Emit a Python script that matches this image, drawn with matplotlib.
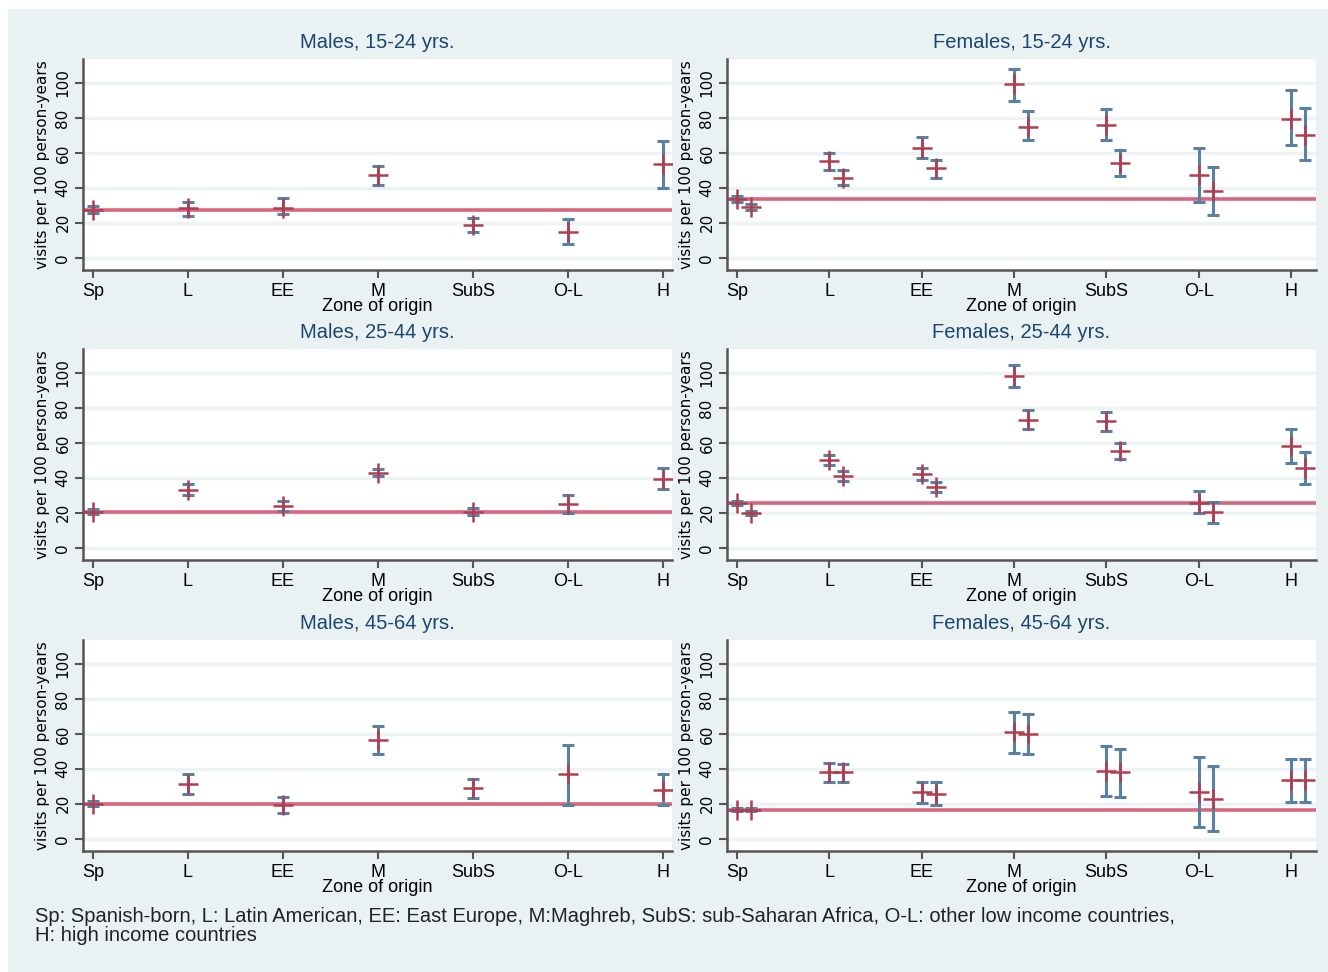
import matplotlib
matplotlib.use("Agg")
import matplotlib.pyplot as plt
from matplotlib.patches import Rectangle
import numpy as np

zones = ["Sp", "L", "EE", "M", "SubS", "O-L", "H"]
titles = ["Males, 15-24 yrs.", "Females, 15-24 yrs.",
          "Males, 25-44 yrs.", "Females, 25-44 yrs.",
          "Males, 45-64 yrs.", "Females, 45-64 yrs."]

# Males: one estimate per zone (rate, lower, upper)
m1524_rate = [27.5, 28.2, 28.4, 47.1, 18.7, 14.9, 53.4]
m1524_lo = [25.5, 24.0, 25.2, 41.8, 14.9, 7.8, 39.9]
m1524_hi = [29.5, 32.0, 34.0, 52.7, 22.5, 22.3, 67.0]
m2544_rate = [20.7, 32.9, 24.1, 43.0, 20.7, 25.0, 39.4]
m2544_lo = [19.5, 30.0, 21.2, 40.9, 18.7, 19.7, 33.8]
m2544_hi = [22.0, 36.3, 27.0, 45.1, 22.6, 30.4, 45.5]
m4564_rate = [20.1, 31.6, 19.5, 56.4, 29.0, 36.9, 28.0]
m4564_lo = [18.7, 25.4, 15.0, 48.5, 23.5, 19.3, 19.3]
m4564_hi = [21.6, 37.1, 23.7, 64.4, 34.3, 53.6, 37.1]

# Females: two estimates per zone (series a, series b)
f1524a_rate = [33.8, 55.3, 62.7, 99.2, 75.9, 47.2, 79.3]
f1524a_lo = [32.0, 50.1, 57.0, 89.5, 67.3, 32.1, 64.4]
f1524a_hi = [35.6, 60.0, 69.0, 108.2, 84.9, 62.7, 95.8]
f1524b_rate = [29.3, 45.5, 51.1, 75.0, 54.3, 38.2, 70.4]
f1524b_lo = [27.6, 41.9, 45.5, 67.1, 46.5, 24.3, 56.2]
f1524b_hi = [31.0, 50.1, 56.2, 83.9, 61.6, 52.0, 85.7]
f2544a_rate = [25.8, 50.3, 42.3, 98.5, 72.3, 25.8, 58.1]
f2544a_lo = [24.6, 47.4, 38.6, 92.0, 66.7, 19.7, 48.4]
f2544a_hi = [27.0, 53.2, 45.5, 104.6, 77.8, 32.3, 67.9]
f2544b_rate = [19.9, 40.9, 34.8, 73.2, 55.3, 20.7, 45.5]
f2544b_lo = [18.8, 38.0, 31.9, 67.7, 50.7, 14.3, 36.7]
f2544b_hi = [21.0, 44.0, 37.7, 78.6, 59.8, 26.2, 54.5]
f4564a_rate = [16.5, 38.0, 26.6, 60.9, 38.7, 26.6, 33.6]
f4564a_lo = [15.6, 32.6, 20.3, 49.1, 24.7, 6.8, 21.3]
f4564a_hi = [17.4, 43.3, 32.6, 72.7, 53.1, 46.9, 45.7]
f4564b_rate = [16.5, 38.0, 25.6, 60.2, 38.1, 22.8, 33.6]
f4564b_lo = [15.6, 32.6, 19.4, 48.6, 23.7, 4.4, 21.3]
f4564b_hi = [17.4, 42.5, 32.6, 71.5, 51.4, 41.6, 45.7]

# Spanish-born reference level per panel
ref_levels = [27.5, 33.8, 20.7, 25.8, 20.1, 16.5]

note = ("Sp: Spanish-born, L: Latin American, EE: East Europe, M:Maghreb, "
        "SubS: sub-Saharan Africa, O-L: other low income countries,\n"
        "H: high income countries")

panels = [
    [(m1524_rate, m1524_lo, m1524_hi)],
    [(f1524a_rate, f1524a_lo, f1524a_hi), (f1524b_rate, f1524b_lo, f1524b_hi)],
    [(m2544_rate, m2544_lo, m2544_hi)],
    [(f2544a_rate, f2544a_lo, f2544a_hi), (f2544b_rate, f2544b_lo, f2544b_hi)],
    [(m4564_rate, m4564_lo, m4564_hi)],
    [(f4564a_rate, f4564a_lo, f4564a_hi), (f4564b_rate, f4564b_lo, f4564b_hi)],
]

BG = "#eaf1f3"
GRID = "#edf2f3"
NAVY = "#1a476f"
BAR = "#5a80a3"
MARK = "#b03e50"
REF = "#d9667f"
SANS = ["Liberation Sans", "DejaVu Sans"]

W, H = 1328, 972
fig = plt.figure(figsize=(W / 100, H / 100), dpi=100)
fig.patches.append(Rectangle((8 / W, 0), 1 - 8 / W, 1 - 9 / H, transform=fig.transFigure,
                             facecolor=BG, edgecolor="none", zorder=-10))

lefts = [83, 727]
tops = [59, 349, 640]
pw, ph = 589, 211
offset = 0.15
x = np.arange(1, 8)

for i, series in enumerate(panels):
    row, col = divmod(i, 2)
    ax = fig.add_axes([lefts[col] / W, 1 - (tops[row] + ph) / H, pw / W, ph / H])
    ax.set_facecolor("white")
    for yv in range(0, 101, 20):
        ax.axhline(yv, color=GRID, lw=2.5, zorder=0)
    ax.axhline(ref_levels[i], color=REF, lw=2.6, zorder=1)
    for k, (rate, lo, hi) in enumerate(series):
        xs = x + k * offset
        rate = np.array(rate)
        yerr = [rate - np.array(lo), np.array(hi) - rate]
        ax.errorbar(xs, rate, yerr=yerr, fmt="none", ecolor=BAR, elinewidth=2.2,
                    capsize=4, capthick=2.2, zorder=2)
        ax.plot(xs, rate, linestyle="none", marker="+", markersize=15,
                markeredgewidth=1.8, color=MARK, zorder=3)

    if col == 0:
        ax.set_xlim(0.895, 7.095)
    else:
        ax.set_xlim(0.892, 7.27)
    ax.set_ylim(-7, 113.7)
    ax.set_yticks(range(0, 101, 20))
    ax.set_yticklabels([str(v) for v in range(0, 101, 20)], rotation=90, va="center",
                       fontsize=11, family="DejaVu Sans")
    ax.set_xticks(x)
    ax.set_xticklabels(zones, fontsize=13, family=SANS)
    ax.set_xlabel("Zone of origin", fontsize=13, family=SANS, labelpad=-1)
    ax.set_ylabel("visits per 100 person-years", fontsize=11, family="DejaVu Sans",
                  labelpad=4)
    ax.set_title(titles[i], fontsize=14.5, color=NAVY, family=SANS, pad=8)
    for s in ("top", "right"):
        ax.spines[s].set_visible(False)
    for s in ("left", "bottom"):
        ax.spines[s].set_color("#555555")
        ax.spines[s].set_linewidth(1.8)
    ax.tick_params(axis="both", length=6, width=1.5, color="#555555", pad=3)

fig.text(35 / W, 1 - 907 / H, note, fontsize=14.5, family=SANS,
         va="top", ha="left", linespacing=1.0, color="#222222")

fig.savefig("out.png", dpi=100)
plt.close(fig)
